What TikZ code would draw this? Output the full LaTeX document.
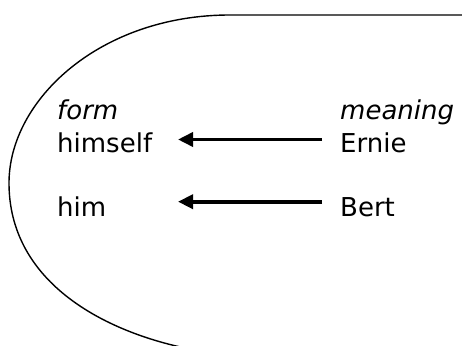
\documentclass[tikz,border=0pt]{standalone}
\usepackage{fontspec}
\setmainfont{DejaVu Sans}
\usetikzlibrary{arrows.meta}
\begin{document}
\begin{tikzpicture}[x=1pt,y=-1pt,
  lbl/.style={anchor=base west,inner sep=0pt,font=\fontsize{26}{30}\selectfont},
  arr/.style={line width=3.6pt,-{Triangle[length=15pt,width=14pt]}},
  outline/.style={line width=1.4pt}]
\useasboundingbox (0,0) rectangle (462,345);
\draw[outline] (470,15) -- (230,15) .. controls (100,15) and (9,100) .. (9,183)
  .. controls (9,280) and (100,330) .. (185,348);
\node[lbl] (form) at (57,119) {\itshape form};
\node[lbl] (himself) at (57,152) {himself};
\node[lbl] (him) at (57,216) {him};
\node[lbl] (meaning) at (340,119) {\itshape meaning};
\node[lbl] (Ernie) at (340,152) {Ernie};
\node[lbl] (Bert) at (340,216) {Bert};
\draw[arr] ([shift={(-18,-12.5)}]Ernie.base west) -- ([shift={(121,-12.5)}]himself.base west);
\draw[arr] ([shift={(-18,-14.3)}]Bert.base west) -- ([shift={(121,-14.3)}]him.base west);
\end{tikzpicture}
\end{document}
